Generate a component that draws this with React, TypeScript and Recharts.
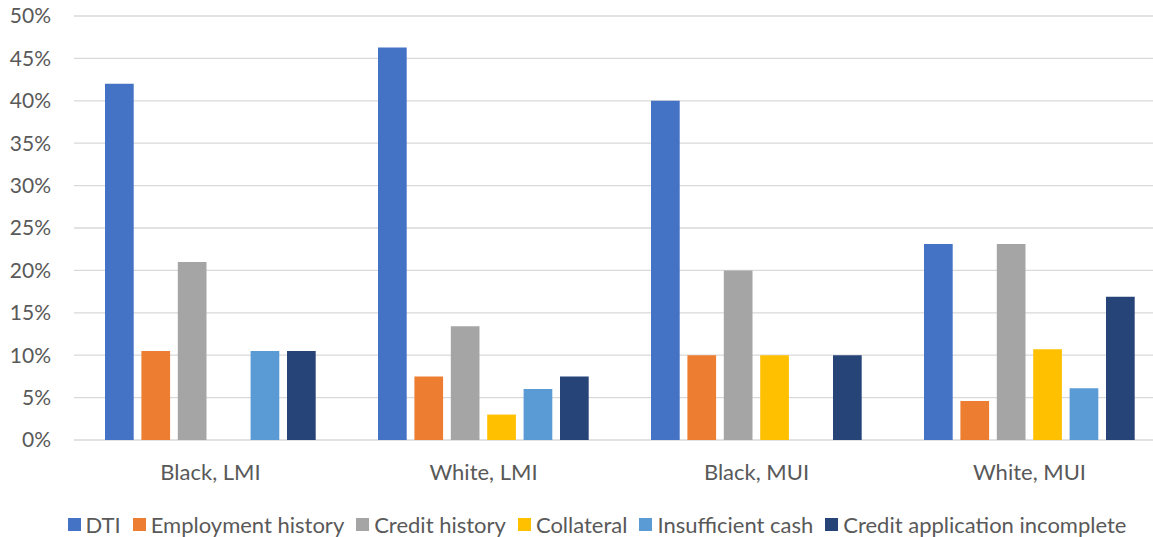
import React from 'react';
import { BarChart, Bar, XAxis, YAxis, CartesianGrid, Legend } from 'recharts';

// Reasons for mortgage denial by race and income group (percent of denials)
const groups = ['Black, LMI', 'White, LMI', 'Black, MUI', 'White, MUI'];
const dti = [42, 46.3, 40, 23.1];
const employmentHistory = [10.5, 7.5, 10, 4.6];
const creditHistory = [21, 13.4, 20, 23.1];
const collateral = [0, 3, 10, 10.7];
const insufficientCash = [10.5, 6, 0, 6.1];
const creditAppIncomplete = [10.5, 7.5, 10, 16.9];
const yTicks = [0, 5, 10, 15, 20, 25, 30, 35, 40, 45, 50];

const series = [
  { key: 'dti', name: 'DTI', color: '#4472C4', values: dti },
  { key: 'emp', name: 'Employment history', color: '#ED7D31', values: employmentHistory },
  { key: 'credit', name: 'Credit history', color: '#A5A5A5', values: creditHistory },
  { key: 'coll', name: 'Collateral', color: '#FFC000', values: collateral },
  { key: 'cash', name: 'Insufficient cash', color: '#5B9BD5', values: insufficientCash },
  { key: 'app', name: 'Credit application incomplete', color: '#264478', values: creditAppIncomplete },
];

const data = groups.map((group, i) => {
  const row: Record<string, string | number> = { group };
  series.forEach((s) => {
    row[s.key] = s.values[i];
  });
  return row;
});

const FONT = 'Lato, sans-serif';
const TEXT = '#595959';
const FS = 22;
const FS_Y = 21;

const LegendContent = () => (
  <div
    style={{
      display: 'flex',
      justifyContent: 'center',
      alignItems: 'center',
      fontFamily: FONT,
      fontSize: FS,
      color: TEXT,
      whiteSpace: 'nowrap',
    }}
  >
    {series.map((s, i) => (
      <div key={s.key} style={{ display: 'flex', alignItems: 'center', marginLeft: i === 0 ? 0 : 12 }}>
        <span style={{ display: 'inline-block', width: 13, height: 13, background: s.color, marginRight: 5 }} />
        <span>{s.name}</span>
      </div>
    ))}
  </div>
);

export default function App() {
  return (
    <div style={{ position: 'absolute', left: 0, top: 0, width: 1153, height: 537, overflow: 'hidden', background: '#fff' }}>
      <BarChart
        width={1170}
        height={537}
        data={data}
        margin={{ top: 16, right: 4, left: 0, bottom: 37 }}
        barGap={7.7}
        barSize={28.7}
      >
        <CartesianGrid horizontal vertical={false} stroke="#D9D9D9" strokeWidth={1.3} />
        <XAxis
          dataKey="group"
          axisLine={false}
          tickLine={false}
          tickSize={0}
          tickMargin={24}
          height={60}
          tick={{ fill: TEXT, fontSize: FS, fontFamily: FONT }}
        />
        <YAxis
          domain={[0, 50]}
          ticks={yTicks}
          interval={0}
          width={74}
          axisLine={false}
          tickLine={false}
          tickSize={0}
          tickMargin={23}
          tickFormatter={(v: number) => `${v}%`}
          tick={{ fill: TEXT, fontSize: FS_Y, fontFamily: FONT }}
        />
        <Legend
          layout="horizontal"
          verticalAlign="middle"
          align="center"
          wrapperStyle={{ top: 511, left: 0, width: 1194, height: 28 }}
          content={<LegendContent />}
        />
        {series.map((s) => (
          <Bar key={s.key} dataKey={s.key} name={s.name} fill={s.color} isAnimationActive={false} />
        ))}
      </BarChart>
    </div>
  );
}
